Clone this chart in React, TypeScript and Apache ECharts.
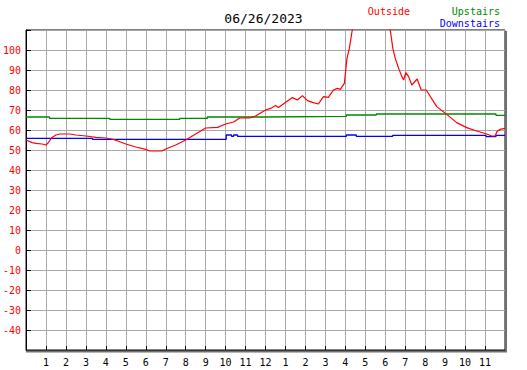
import React, { useEffect, useRef } from "react";
import * as echarts from "echarts";

const titleText = "06/26/2023";

// Outside (red): hours since midnight, temperature
const outsideHours = [0, 0.3, 0.5, 0.8, 1.0, 1.1, 1.3, 1.5, 1.7, 2.2, 2.5, 3.0, 3.5, 4.0, 4.3, 4.6, 5.0, 5.5, 6.0, 6.2, 6.8, 7.0, 7.5, 8.0, 8.5, 9.0, 9.6, 10.0, 10.4, 10.7, 11.2, 11.5, 12.0, 12.25, 12.5, 12.65, 13.1, 13.35, 13.6, 13.85, 14.1, 14.35, 14.65, 14.9, 15.15, 15.4, 15.6, 15.75, 15.95, 16.08, 16.2, 16.33, 16.5, 17.0, 17.5, 18.0, 18.25, 18.38, 18.5, 18.67, 18.83, 18.92, 19.03, 19.17, 19.33, 19.6, 19.8, 20.05, 20.58, 21.08, 21.58, 22.08, 22.58, 23.08, 23.33, 23.5, 23.6, 23.75, 24.0];
const outsideTemps = [55, 53.7, 53.3, 53, 52.5, 53.5, 56.3, 57.5, 58, 58, 57.5, 57, 56.3, 56, 55.5, 54.5, 53, 51.5, 50.3, 49.5, 49.5, 50.5, 52.5, 55, 58, 61, 61.3, 63, 64, 66, 66, 67, 70, 70.8, 72.2, 71.3, 74.5, 76.2, 75, 77.2, 74.7, 73.8, 73, 76.7, 76.3, 80, 80.8, 80.3, 83.3, 95.8, 100.8, 109, 118, 125, 125, 120, 110, 100.8, 95.8, 90.8, 86.7, 85, 88.7, 86.7, 82.5, 85.5, 80, 80, 71.7, 67.8, 63.7, 61.2, 59.5, 58, 57, 57, 59.2, 60.3, 60.8];

// Upstairs (green)
const upstairsHours = [0, 1.18, 4.2, 7.7, 9.08, 11.9, 16.05, 17.55, 23.55, 24];
const upstairsTemps = [66.5, 65.8, 65.3, 65.8, 66.5, 66.8, 67.5, 68, 67.3, 67.3];

// Downstairs (blue)
const downstairsHours = [0, 3.33, 10.03, 10.3, 10.4, 10.6, 16.05, 16.55, 18.37, 23.05, 23.55, 24];
const downstairsTemps = [55.8, 55.3, 57.5, 56.8, 57.5, 56.8, 57.5, 56.8, 57.3, 56.7, 57.3, 57.3];

const legendNames = ["Outside", "Upstairs", "Downstairs"];
const colors = ["#ff0000", "#008800", "#0000ff"];

const zip = (xs: number[], ys: number[]) => xs.map((x, i) => [x, ys[i]]);

export default function App() {
  const ref = useRef<HTMLDivElement>(null);
  useEffect(() => {
    if (!ref.current) return;
    const chart = echarts.init(ref.current, undefined, { renderer: "svg" });
    const font = "'DejaVu Sans Mono', monospace";
    chart.setOption({
      animation: false,
      backgroundColor: "#ffffff",
      grid: {
        left: 25,
        right: 22,
        top: 30,
        bottom: 20,
        show: true,
        borderColor: "#000000",
        borderWidth: 1,
        backgroundColor: "#ffffff",
      },
      xAxis: {
        type: "value",
        min: 0,
        max: 24,
        interval: 1,
        axisLine: { show: true, onZero: false, lineStyle: { color: "#000000", width: 1 } },
        axisTick: { show: true, inside: true, length: 4, lineStyle: { color: "#000000" } },
        splitLine: { show: true, lineStyle: { color: "#a8a8a8", width: 1 } },
        axisLabel: {
          color: "#000000",
          fontFamily: font,
          fontSize: 10,
          margin: 7,
          formatter: (v: number) => {
            if (v <= 0 || v >= 24) return "";
            const h = v % 12;
            return h === 0 ? "12" : String(h);
          },
        },
      },
      yAxis: {
        type: "value",
        min: -50,
        max: 110,
        interval: 10,
        axisLine: { show: true, onZero: false, lineStyle: { color: "#000000", width: 1 } },
        axisTick: { show: true, inside: true, length: 5, lineStyle: { color: "#000000" } },
        splitLine: { show: true, lineStyle: { color: "#a8a8a8", width: 1 } },
        axisLabel: {
          color: "#ff0000",
          fontFamily: font,
          fontSize: 10,
          margin: 5,
          formatter: (v: number) => (v <= -50 || v >= 110 ? "" : String(v)),
        },
      },
      series: [
        {
          name: legendNames[0],
          type: "line",
          data: zip(outsideHours, outsideTemps),
          showSymbol: false,
          lineStyle: { color: colors[0], width: 1.2 },
          clip: true,
          z: 4,
        },
        {
          name: legendNames[1],
          type: "line",
          step: "end",
          data: zip(upstairsHours, upstairsTemps),
          showSymbol: false,
          lineStyle: { color: colors[1], width: 1.3 },
          clip: true,
          z: 3,
        },
        {
          name: legendNames[2],
          type: "line",
          step: "end",
          data: zip(downstairsHours, downstairsTemps),
          showSymbol: false,
          lineStyle: { color: colors[2], width: 1.3 },
          clip: true,
          z: 3,
        },
      ],
      graphic: [
        {
          type: "text",
          left: "center",
          top: 12,
          style: { text: titleText, fill: "#000000", font: `13px ${font}` },
        },
        {
          type: "text",
          x: 410,
          y: 11,
          style: { text: legendNames[0], fill: colors[0], font: `10px ${font}`, textAlign: "right", textVerticalAlign: "middle" },
        },
        {
          type: "text",
          x: 500,
          y: 11,
          style: { text: legendNames[1], fill: colors[1], font: `10px ${font}`, textAlign: "right", textVerticalAlign: "middle" },
        },
        {
          type: "text",
          x: 500,
          y: 23,
          style: { text: legendNames[2], fill: colors[2], font: `10px ${font}`, textAlign: "right", textVerticalAlign: "middle" },
        },
        { type: "rect", shape: { x: 505, y: 31, width: 2, height: 321 }, style: { fill: "#707070" }, z: 10 },
        { type: "rect", shape: { x: 26, y: 350.5, width: 481, height: 2 }, style: { fill: "#707070" }, z: 10 },
      ],
    });
    return () => chart.dispose();
  }, []);
  return (
    <div
      ref={ref}
      style={{ position: "fixed", left: 0, top: 0, width: 527, height: 370, background: "#ffffff" }}
    />
  );
}
